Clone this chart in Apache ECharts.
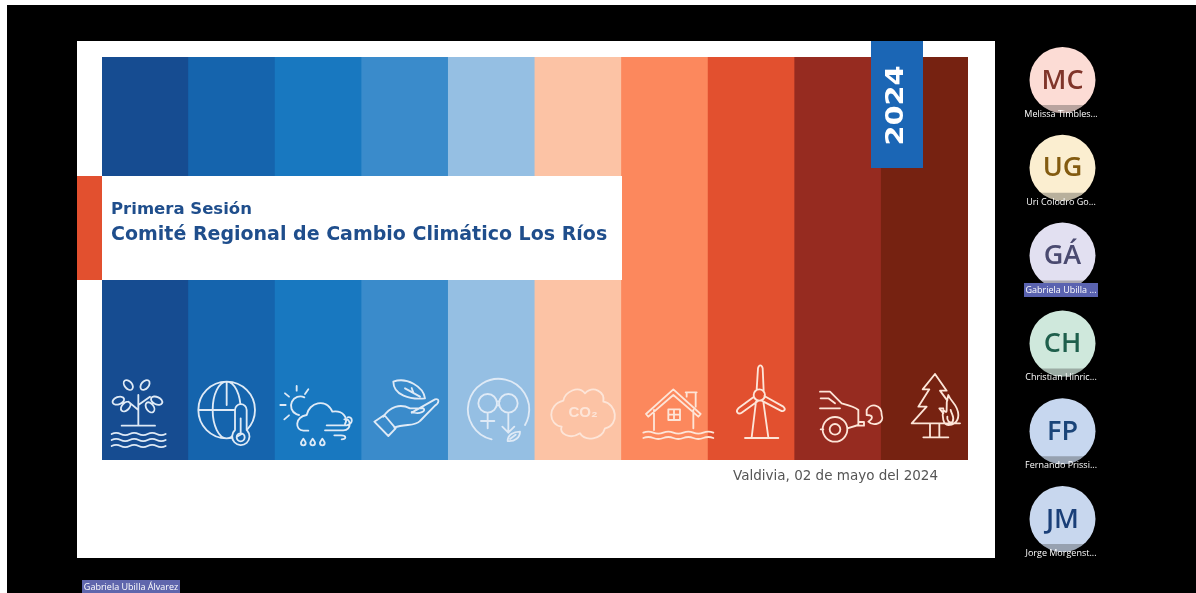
<!DOCTYPE html>
<html><head><meta charset="utf-8">
<script src="https://cdn.jsdelivr.net/npm/echarts@6/dist/echarts.min.js"></script>
<style>html,body{margin:0;padding:0;background:#fff}#c{width:1196px;height:593px;filter:blur(0.4px)}</style>
</head><body><div id="c"></div>
<script>
// ---- data ----
const stripeCategories = ['1','2','3','4','5','6','7','8','9','10'];
const stripeValues = [1,1,1,1,1,1,1,1,1,1];
const stripePalette = ['#164c91','#1564ad','#1878c0','#3a8bcb','#95bfe3','#fcc3a5','#fc885d','#e2502f','#962b20','#762211'];
const titleLine1 = 'Primera Sesión';
const titleLine2 = 'Comité Regional de Cambio Climático Los Ríos';
const dateLine = 'Valdivia, 02 de mayo del 2024';
const yearLabel = '2024';
const initials = ['MC','UG','GÁ','CH','FP','JM'];
const names = ['Melissa Timbles...','Uri Colodro Go...','Gabriela Ubilla ...','Christian Hinric...','Fernando Prissi...','Jorge Morgenst...'];
const avatarFills = ['#fcdcd5','#fbeed0','#e2e0f1','#cfe8dc','#c7d7ef','#c8d7ee'];
const avatarInks = ['#80352a','#835b10','#4a4a70','#1f5f4c','#1a4478','#1a3f78'];
const speaker = 'Gabriela Ubilla Álvarez';

// ---- icon helpers (icon outlines drawn in 3x local units) ----
const circle=(x,y,r)=>`M${x-r} ${y}A${r} ${r} 0 1 1 ${x+r} ${y}A${r} ${r} 0 1 1 ${x-r} ${y}Z`;
function ellipse(x,y,a,b,deg){const t=deg*Math.PI/180,dx=a*Math.cos(t),dy=a*Math.sin(t);
  return `M${x-dx} ${y-dy}A${a} ${b} ${deg} 1 1 ${x+dx} ${y+dy}A${a} ${b} ${deg} 1 1 ${x-dx} ${y-dy}Z`;}
function wave(x0,x1,y,step,amp){let d=`M${x0} ${y}`,up=true;for(let x=x0;x<x1;x+=step){d+=`Q${x+step/2} ${y+(up?-amp:amp)} ${x+step} ${y}`;up=!up;}return d;}
const drop=(x,y)=>`M${x} ${y-9}C${x+4} ${y-3} ${x+7} ${y} ${x+7} ${y+4}A7 7 0 1 1 ${x-7} ${y+4}C${x-7} ${y} ${x-4} ${y-3} ${x} ${y-9}Z`;

const iconsBlue=[
 'M130 195V105M130 150L100 125M130 135L165 110M80 197H180'+ellipse(100,75,17,11,50)+ellipse(150,75,17,11,-50)+ellipse(70,122,18,11,-20)+ellipse(185,122,18,11,25)+ellipse(92,140,17,11,-45)+ellipse(165,142,17,11,55)+wave(50,210,222,27,7)+wave(50,210,240,27,7)+wave(50,210,258,27,7),
 circle(395,150,85)+ellipse(395,150,42,85,0)+'M395 65V135M310 150H422',
 'M628 112A28 28 0 1 0 612 165M605 78V92M640 88L630 102M570 100L582 110M556 135H572M568 178L582 166M640 212H625C600 212 598 172 635 165C642 128 692 112 712 155C745 150 760 175 750 192M690 211H745C772 211 768 172 748 178M695 196H755C778 190 772 168 758 172M718 226H738C755 226 755 238 740 238'+drop(625,245)+drop(653,245)+drop(682,245),
 'M895 65C935 50 985 80 990 115C945 120 895 105 895 65ZM930 85L975 110M955 98L950 84M838 185L868 165L902 205L880 228ZM865 170C885 140 915 130 945 145H985C995 152 975 165 950 156M950 158L1020 118C1035 115 1032 130 1020 137L975 183C960 200 930 190 898 203',
 'M1190 238A92 92 0 1 1 1290 195'+circle(1178,130,28)+circle(1240,130,28)+'M1205 124H1214M1205 136H1214M1178 158V205M1158 183H1198M1240 158V218M1222 200L1240 218L1258 200M1238 243C1238 225 1255 215 1275 215C1275 232 1260 245 1238 243ZM1245 237L1262 224'
];
const iconsWarm=[
 'M100 122C105 95 145 75 165 100C190 75 225 95 220 125C260 130 270 195 225 205C215 240 165 245 150 220C120 240 85 220 95 200C55 195 50 135 100 122Z',
 'M348 162L430 88L512 162L505 170L430 105L355 170ZM470 110V97H497V140M467 97H500M372 150V210M490 150V205M415 148H450V180H415ZM432 148V180M415 164H450'+wave(340,522,218,30,6)+wave(340,522,234,30,6),
 circle(688,105,17)+'M680 89L684 25C687 13 695 13 698 25L701 92M672 110L625 145C615 155 625 165 635 158L685 122M703 108L760 140C770 150 760 156 752 152L695 122M678 125L665 232M700 125L715 232M645 234H745',
 'M870 95H900L935 130C955 135 975 140 985 150V195L952 205M872 115H895L915 130M870 145H930M880 208H872'+circle(915,208,37)+circle(915,208,16)+'M985 186H1002V197H985M1010 150C1020 130 1055 130 1055 165C1065 190 1030 200 1015 185C1030 175 1030 165 1010 165Z',
 'M1215 42L1178 88H1198L1165 140H1190L1145 190H1290M1215 42L1250 92H1230L1252 122M1240 145H1228L1240 160M1200 192V232M1228 192V232M1180 232H1255M1255 105C1262 125 1285 135 1285 165C1285 190 1265 195 1255 195C1240 195 1235 170 1240 150C1245 155 1250 160 1250 150C1248 130 1250 120 1255 105ZM1262 150C1265 165 1275 170 1268 185C1258 192 1250 180 1252 170'
];
const S=1/3;
let shapeId=0;
function regShape(d){const name='iconShape'+(shapeId++);echarts.graphic.registerShape(name,echarts.graphic.extendPath(d));return name;}
function pathEl(d,z,extra){return Object.assign({type:regShape(d),z:z,shape:{}},extra);}
function icon(d,ox,color,fill,z){return pathEl(d,z||20,{x:ox,y:360,scaleX:S,scaleY:S,
  style:{fill:fill||null,stroke:color,lineWidth:5.5,lineJoin:'round',lineCap:'round'}});}
function txt(text,x,y,font,fill,align,extra){return Object.assign({type:'text',z:30,x,y,
  style:{text,font,fill,textAlign:align||'left',textVerticalAlign:'middle'}},extra||{});}
function box(x,y,w,h,fill,z){return {type:'rect',z:z,shape:{x,y,width:w,height:h},style:{fill}};}

const g=[];
g.push(box(7,5,1189,588,'#000',0));
g.push(box(77,41,918,517,'#fff',1));
g.push(box(102,176,520,104,'#fff',10));
g.push(box(77,176,25,104,'#e2502f',10));
g.push(box(871,41,52,127,'#1b66b5',10));
g.push(txt(titleLine1,111,210,'bold 16.5px "DejaVu Sans"','#1f4e8c'));
g.push(txt(titleLine2,111,235,'bold 19px "DejaVu Sans"','#1f4e8c'));
g.push(txt(dateLine,733,476,'13.5px "DejaVu Sans"','#555'));
g.push({type:'text',z:30,x:897,y:105.5,rotation:Math.PI/2,scaleX:1.2,
  style:{text:yearLabel,font:'bold 24px "DejaVu Sans"',fill:'#fff',textAlign:'center',textVerticalAlign:'middle'}});
iconsBlue.forEach(d=>g.push(icon(d,95,'#dfeaf6')));
g.push(icon('M420 150V210A26 26 0 1 0 455 210V150A17 17 0 0 0 420 150Z'+circle(437,232,12)+'M437 175V220',95,'#dfeaf6',stripePalette[1],21));
iconsWarm.forEach(d=>g.push(icon(d,530,'#fde5d8')));
g.push(txt('CO₂',583,413,'bold 15px "Liberation Sans"','#fde5d8','center'));

initials.forEach((t,i)=>{
  const cx=1062.5, cy=80+i*87.8, r=33, h=25, w=Math.sqrt(r*r-h*h);
  g.push({type:'circle',z:10,shape:{cx,cy,r},style:{fill:avatarFills[i]}});
  g.push(pathEl(`M${cx-w} ${cy+h}A${r} ${r} 0 0 0 ${cx+w} ${cy+h}Z`,11,{style:{fill:'rgba(60,60,60,0.35)'}}));
  g.push(txt(t,cx,cy+1,'600 27px "Open Sans"',avatarInks[i],'center'));
  if(i===2) g.push(box(1024,283,74,14,'#5a63b0',12));
  g.push(txt(names[i],1061,cy+34.5,'9px "Open Sans"','#fff','center'));
});
g.push(box(82,580,98,13,'#5f66ac',12));
g.push(txt(speaker,131,587,'9px "Open Sans"','#fff','center'));

const chart=echarts.init(document.getElementById('c'),null,{renderer:'canvas'});
chart.setOption({
  animation:false,
  backgroundColor:'#fff',
  grid:{left:102,right:228,top:57,bottom:133},
  xAxis:{type:'category',data:stripeCategories,show:false,boundaryGap:true},
  yAxis:{type:'value',min:0,max:1,show:false},
  series:[{type:'bar',z:5,barWidth:'101%',silent:true,data:stripeValues.map((v,i)=>({value:v,itemStyle:{color:stripePalette[i]}}))}],
  graphic:{elements:g}
});
</script></body></html>
